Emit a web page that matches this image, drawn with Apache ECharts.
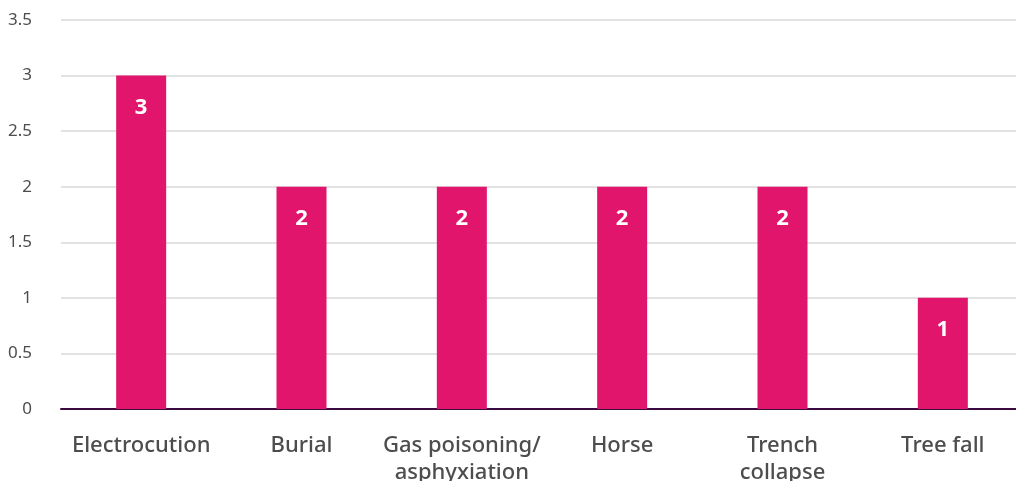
<!DOCTYPE html>
<html><head><meta charset="utf-8">
<script src="https://cdn.jsdelivr.net/npm/echarts@6/dist/echarts.min.js"></script>
<style>html,body{margin:0;padding:0;background:#fff}#c{width:1016px;height:481px}</style>
</head><body><div id="c"></div>
<script>
var categories = ['Electrocution', 'Burial', 'Gas poisoning/\nasphyxiation', 'Horse', 'Trench\ncollapse', 'Tree fall'];
var values = [3, 2, 2, 2, 2, 1];
var chart = echarts.init(document.getElementById('c'));
chart.setOption({
  animation: false,
  grid: { left: 61, top: 20, width: 962, height: 389, outerBoundsMode: 'none', containLabel: false },
  xAxis: {
    type: 'category', data: categories,
    axisLine: { lineStyle: { color: '#3b0a3f', width: 2 } },
    axisTick: { show: false },
    axisLabel: { color: '#4d4d4d', fontSize: 22, fontWeight: 500, fontFamily: 'Noto Sans', margin: 23, lineHeight: 27, interval: 0 }
  },
  yAxis: {
    type: 'value', min: 0, max: 3.5, interval: 0.5,
    axisLine: { show: false }, axisTick: { show: false },
    splitLine: { lineStyle: { color: '#d9d9d9', width: 1.5 } },
    axisLabel: { color: '#4d4d4d', fontSize: 17, fontFamily: 'Noto Sans', margin: 29 }
  },
  series: [{
    type: 'bar', data: values, barWidth: 50,
    itemStyle: { color: '#e0156b' },
    label: { show: true, position: 'insideTop', distance: 21, color: '#fff', fontSize: 22, fontWeight: 'bold', fontFamily: 'Noto Sans' }
  }]
});
</script></body></html>
